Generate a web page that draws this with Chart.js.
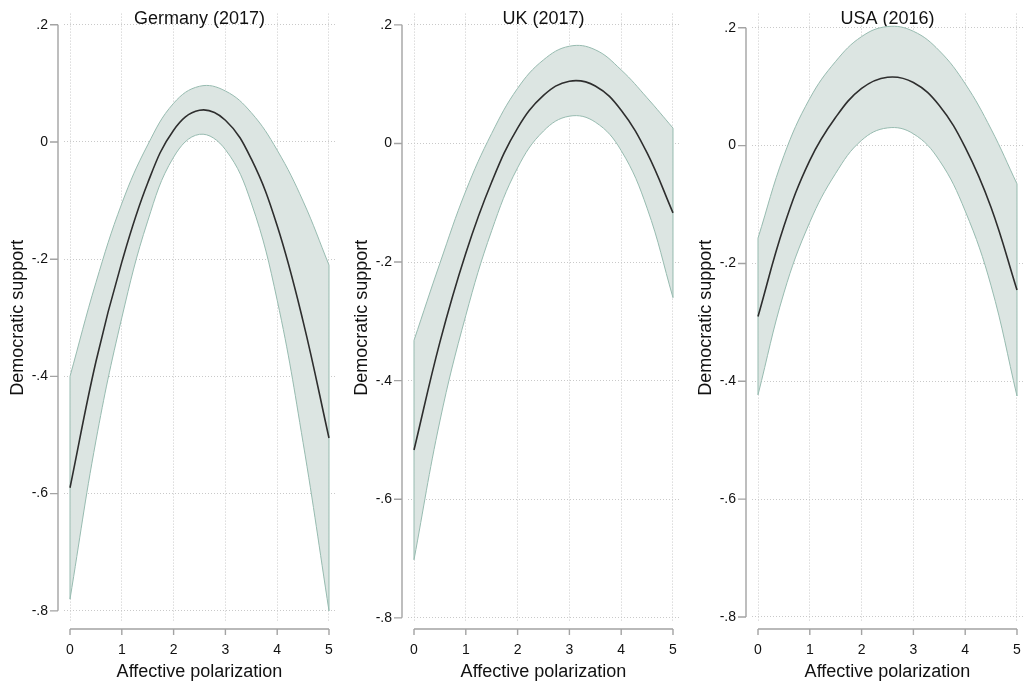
<!DOCTYPE html>
<html>
<head>
<meta charset="utf-8">
<title>Democratic support by affective polarization</title>
<script src="https://cdn.jsdelivr.net/npm/chart.js@4.4.0/dist/chart.umd.min.js"></script>
<style>
  html, body { margin: 0; padding: 0; background: #fff; overflow: hidden; }
  .panel { position: absolute; top: 0; width: 344px; height: 683px; }
</style>
</head>
<body>
<div class="panel" style="left:0px"><canvas id="c0" width="344" height="683"></canvas></div>
<div class="panel" style="left:344px"><canvas id="c1" width="344" height="683"></canvas></div>
<div class="panel" style="left:688px"><canvas id="c2" width="344" height="683"></canvas></div>
<script>
// Predicted democratic support over affective polarization, with 95% CI band

const xVals = [0, 0.5, 1, 1.5, 2, 2.5, 3, 3.5, 4, 4.5, 5];
const xTicks = [0, 1, 2, 3, 4, 5];
const yTicks = [0.2, 0, -0.2, -0.4, -0.6, -0.8];
const yTickLabels = ['.2', '0', '-.2', '-.4', '-.6', '-.8'];
const titles = ['Germany (2017)', 'UK (2017)', 'USA (2016)'];

// Germany (2017)
const deMean  = [-0.59, -0.375, -0.205, -0.07, 0.02, 0.054, 0.037, -0.029, -0.143, -0.306, -0.505];
const deUpper = [-0.40, -0.24, -0.105, -0.005, 0.066, 0.095, 0.087, 0.05, -0.014, -0.101, -0.21];
const deLower = [-0.78, -0.51, -0.30, -0.135, -0.026, 0.013, -0.013, -0.104, -0.27, -0.513, -0.80];

// UK (2017)
const ukMean  = [-0.517, -0.335, -0.185, -0.065, 0.026, 0.081, 0.105, 0.097, 0.056, -0.016, -0.117];
const ukUpper = [-0.332, -0.202, -0.08, 0.017, 0.093, 0.141, 0.164, 0.158, 0.124, 0.077, 0.026];
const ukLower = [-0.702, -0.468, -0.29, -0.147, -0.041, 0.021, 0.046, 0.036, -0.012, -0.109, -0.26];

// USA (2016)
const usMean  = [-0.29, -0.137, -0.025, 0.048, 0.097, 0.116, 0.107, 0.068, -0.003, -0.105, -0.245];
const usUpper = [-0.157, -0.017, 0.08, 0.143, 0.185, 0.202, 0.194, 0.161, 0.105, 0.028, -0.065];
const usLower = [-0.423, -0.25, -0.13, -0.047, 0.009, 0.03, 0.02, -0.025, -0.111, -0.238, -0.425];

// layout per panel (y range chosen so the ticks land where the original has them)
const panels = [
  { id: 'c0', title: titles[0], mean: deMean, upper: deUpper, lower: deLower, yMin: -0.819, yMax: 0.219 },
  { id: 'c1', title: titles[1], mean: ukMean, upper: ukUpper, lower: ukLower, yMin: -0.807, yMax: 0.219 },
  { id: 'c2', title: titles[2], mean: usMean, upper: usUpper, lower: usLower, yMin: -0.8085, yMax: 0.224 }
];

const lineColor = '#2e2e2e';
const bandFill = '#dce5e2';
const bandEdge = '#97bbb0';
const axisColor = '#a3a3a3';
const gridColor = '#c9c9c9';

Chart.defaults.font.family = '"Liberation Sans", Arial, sans-serif';
Chart.defaults.color = '#111';

const pts = arr => arr.map((v, i) => ({ x: xVals[i], y: v }));

// Stata-like axes: lines only over the tick range, set off from the plot region
const stataAxes = {
  id: 'stataAxes',
  afterDraw(chart) {
    const { ctx, chartArea, scales: { x, y } } = chart;
    const ax = chartArea.left - 6;
    const ay = chartArea.bottom + 7;
    ctx.save();
    ctx.strokeStyle = axisColor;
    ctx.lineWidth = 1.4;
    ctx.beginPath();
    ctx.moveTo(ax, y.getPixelForValue(yTicks[0]));
    ctx.lineTo(ax, y.getPixelForValue(yTicks[yTicks.length - 1]));
    yTicks.forEach(v => {
      const py = y.getPixelForValue(v);
      ctx.moveTo(ax - 8, py);
      ctx.lineTo(ax, py);
    });
    ctx.moveTo(x.getPixelForValue(xTicks[0]), ay);
    ctx.lineTo(x.getPixelForValue(xTicks[xTicks.length - 1]), ay);
    xTicks.forEach(v => {
      const px = x.getPixelForValue(v);
      ctx.moveTo(px, ay);
      ctx.lineTo(px, ay + 6);
    });
    ctx.stroke();
    ctx.restore();
  }
};

panels.forEach(p => {
  const last = xVals.length - 1;
  new Chart(document.getElementById(p.id), {
    type: 'line',
    data: {
      datasets: [
        { data: pts(p.mean), borderColor: lineColor, borderWidth: 1.6, fill: false, tension: 0.4 },
        { data: pts(p.upper), borderColor: bandEdge, borderWidth: 1, backgroundColor: bandFill, fill: '+1', tension: 0.4 },
        { data: pts(p.lower), borderColor: bandEdge, borderWidth: 1, fill: false, tension: 0.4 },
        { data: [{ x: xVals[0], y: p.lower[0] }, { x: xVals[0], y: p.upper[0] }], borderColor: bandEdge, borderWidth: 1, fill: false },
        { data: [{ x: xVals[last], y: p.lower[last] }, { x: xVals[last], y: p.upper[last] }], borderColor: bandEdge, borderWidth: 1, fill: false }
      ]
    },
    options: {
      responsive: false,
      animation: false,
      layout: { padding: { left: 0, right: 9, top: 0, bottom: 0 } },
      elements: { point: { radius: 0, hoverRadius: 0 } },
      plugins: {
        legend: { display: false },
        tooltip: { enabled: false },
        filler: { drawTime: 'beforeDatasetsDraw' },
        title: {
          display: true,
          text: p.title,
          fullSize: false,
          font: { size: 18, weight: 'normal' },
          color: '#111',
          padding: { top: 8, bottom: -16 }
        }
      },
      scales: {
        x: {
          type: 'linear',
          min: -0.116,
          max: 5.116,
          afterBuildTicks: s => { s.ticks = xTicks.map(v => ({ value: v })); },
          afterFit: s => { s.height = 61; s.paddingLeft = 0; s.paddingRight = 0; },
          ticks: { font: { size: 14 }, padding: 20, autoSkip: false, maxRotation: 0, callback: v => String(v) },
          grid: { color: gridColor, lineWidth: 1, drawTicks: false },
          border: { display: false, dash: [1, 2] },
          title: { display: true, text: 'Affective polarization', font: { size: 18 }, padding: { top: 0, bottom: 0 } }
        },
        y: {
          min: p.yMin,
          max: p.yMax,
          afterBuildTicks: s => { s.ticks = yTicks.map(v => ({ value: v })); },
          afterFit: s => { s.width = 64; s.paddingTop = 0; s.paddingBottom = 0; },
          ticks: { font: { size: 14 }, padding: 16, autoSkip: false, callback: v => yTickLabels[yTicks.indexOf(v)] },
          grid: { color: gridColor, lineWidth: 1, drawTicks: false },
          border: { display: false, dash: [1, 2] },
          title: { display: true, text: 'Democratic support', font: { size: 18 }, padding: { top: 7, bottom: 0 } }
        }
      }
    },
    plugins: [stataAxes]
  });
});
</script>
</body>
</html>
